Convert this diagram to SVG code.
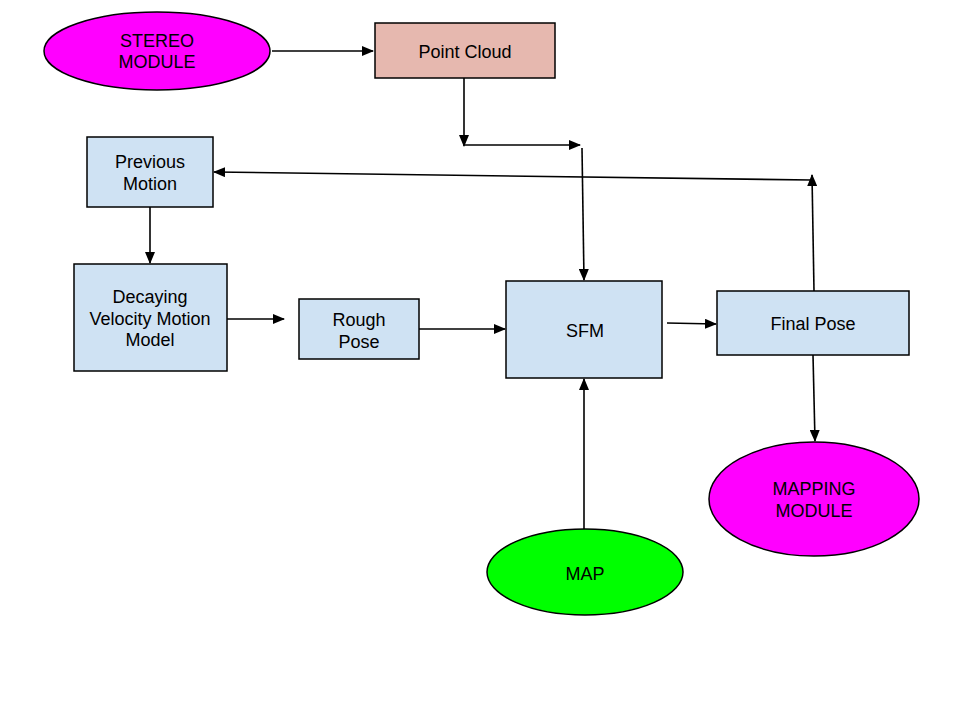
<svg xmlns="http://www.w3.org/2000/svg" width="960" height="720" viewBox="0 0 960 720">
<style>
.box{fill:#cfe2f3;stroke:#000;stroke-width:1.5}
.pc{fill:#e6b8af;stroke:#000;stroke-width:1.5}
.mag{fill:#ff00ff;stroke:#000;stroke-width:1.5}
.grn{fill:#00ff00;stroke:#000;stroke-width:1.5}
text{font-family:"Liberation Sans",Arial,sans-serif;font-size:18px;fill:#000;text-anchor:middle}
.c{fill:none;stroke:#000;stroke-width:1.6}
</style>
<defs>
<marker id="ah" markerUnits="userSpaceOnUse" markerWidth="12" markerHeight="10" refX="11" refY="5" orient="auto">
<path d="M0,0 L12,5 L0,10 z" fill="#000"/>
</marker>
</defs>
<rect width="960" height="720" fill="#fff"/>
<g id="connectors">
<path class="c" d="M272,51 L373,51" marker-end="url(#ah)"/>
<path class="c" d="M464,78 L464,146" marker-end="url(#ah)"/>
<path class="c" d="M465,145 L580,145" marker-end="url(#ah)"/>
<path class="c" d="M582,148 L584,280" marker-end="url(#ah)"/>
<path class="c" d="M150,207 L150,263" marker-end="url(#ah)"/>
<path class="c" d="M227,319 L284,319" marker-end="url(#ah)"/>
<path class="c" d="M419,329 L505,329" marker-end="url(#ah)"/>
<path class="c" d="M667,323 L716,324" marker-end="url(#ah)"/>
<path class="c" d="M814,291 L812,175" marker-end="url(#ah)"/>
<path class="c" d="M811,180 L214,172" marker-end="url(#ah)"/>
<path class="c" d="M813,355 L815,441" marker-end="url(#ah)"/>
<path class="c" d="M584,530 L584,379" marker-end="url(#ah)"/>
</g>
<g id="stereo">
<ellipse class="mag" cx="157" cy="51" rx="113" ry="39"/>
<text x="157" y="46.5">STEREO</text>
<text x="157" y="67.5">MODULE</text>
</g>
<g id="pointcloud">
<rect class="pc" x="375" y="23" width="180" height="55"/>
<text x="465" y="57.5">Point Cloud</text>
</g>
<g id="previous">
<rect class="box" x="87" y="137" width="126" height="70"/>
<text x="150" y="168">Previous</text>
<text x="150" y="190">Motion</text>
</g>
<g id="decaying">
<rect class="box" x="74" y="264" width="153" height="107"/>
<text x="150" y="303">Decaying</text>
<text x="150" y="324.5">Velocity Motion</text>
<text x="150" y="346">Model</text>
</g>
<g id="rough">
<rect class="box" x="299" y="299" width="120" height="60"/>
<text x="359" y="326">Rough</text>
<text x="359" y="347.5">Pose</text>
</g>
<g id="sfm">
<rect class="box" x="506" y="281" width="156" height="97"/>
<text x="585" y="336.5">SFM</text>
</g>
<g id="finalpose">
<rect class="box" x="717" y="291" width="192" height="64"/>
<text x="813" y="330">Final Pose</text>
</g>
<g id="mapping">
<ellipse class="mag" cx="814" cy="499" rx="105" ry="57"/>
<text x="814" y="495">MAPPING</text>
<text x="814" y="516.5">MODULE</text>
</g>
<g id="map">
<ellipse class="grn" cx="585" cy="572" rx="98" ry="43"/>
<text x="585" y="579.5">MAP</text>
</g>
</svg>
